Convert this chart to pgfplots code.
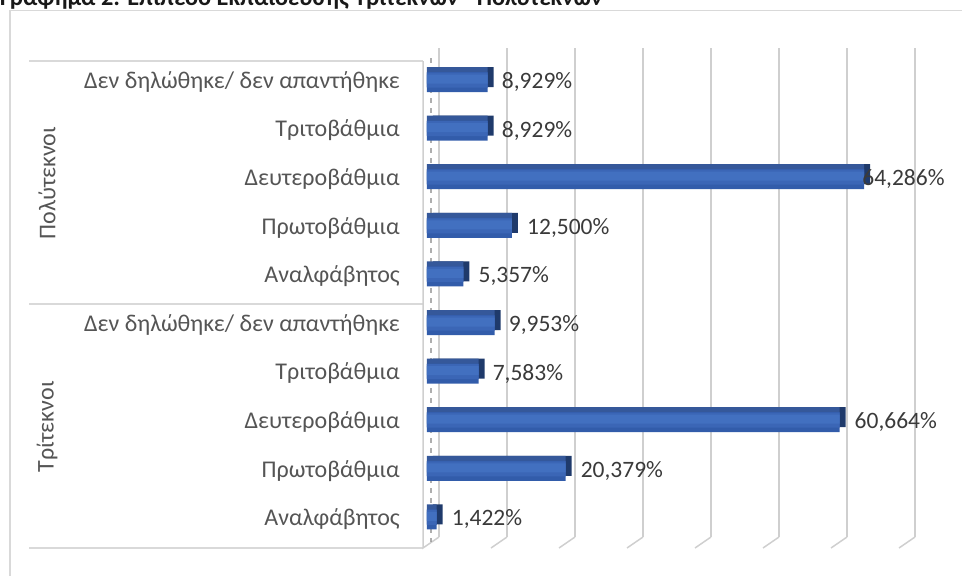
\documentclass[border=0pt]{standalone}
\usepackage{pgfplots}
\pgfplotsset{compat=1.18}
\usepackage{pgfplotstable}
\usepackage{fontspec}
\setmainfont{Carlito}
\definecolor{frontHi}{HTML}{4270C0}
\definecolor{frontMid}{HTML}{3B66B6}
\definecolor{frontLo}{HTML}{325CAA}
\definecolor{topface}{HTML}{35589A}
\definecolor{sideface}{HTML}{1F3A6B}
\definecolor{gridc}{HTML}{CFCFCF}
\definecolor{framec}{HTML}{D9D9D9}
\definecolor{txt}{HTML}{555555}
\definecolor{lbl}{HTML}{3A3A3A}

\pgfplotstableread{
y val dx
9 8.929 14
8 8.929 14
7 64.286 -2
6 12.500 15
5 5.357 15
4 9.953 14
3 7.583 14
2 60.664 15
1 20.379 15
0 1.422 15
}\datatab

\newcommand{\catfont}{\fontsize{24}{28}\selectfont}
\newcommand{\lblfont}{\fontsize{23.5}{28}\selectfont}

\begin{document}
\begin{tikzpicture}
\path[use as bounding box, clip] (0pt,0pt) rectangle (962pt,-576pt);
% title (cut off at top, as in the reference)
\node[anchor=base west, inner sep=0pt, font=\bfseries\fontsize{24.3}{28}\selectfont, text=black!90] at (0pt,-5pt) {Γράφημα 2: Επίπεδο Εκπαίδευσης Τριτέκνων - Πολυτέκνων};
% chart frame
\draw[framec, line width=1.5pt] (10pt,-10.5pt) rectangle (1000pt,-620pt);
% group separator lines
\draw[framec, line width=1.5pt] (29pt,-61pt) -- (423pt,-61pt);
\draw[framec, line width=1.5pt] (29pt,-304pt) -- (423pt,-304pt);
\draw[framec, line width=1.5pt] (29pt,-548pt) -- (423pt,-548pt);
% 3D wall
\draw[gridc, line width=1.5pt] (423pt,-61pt) -- (423pt,-548pt) -- (439pt,-537pt);
\draw[black!45, opacity=0.7, line width=2.5pt, dash pattern=on 5pt off 5pt] (431pt,-58pt) -- (431pt,-542pt);
% floor diagonals
\foreach \k in {1,...,7} {\draw[gridc, line width=1.5pt] ({439pt+68pt*\k},-537pt) -- ++(-16pt,-11pt);}
% group labels
\node[rotate=90, font=\catfont, text=txt] at (47pt,-183pt) {Πολύτεκνοι};
\node[rotate=90, font=\catfont, text=txt] at (47pt,-427pt) {Τρίτεκνοι};

\begin{axis}[
  at={(427pt,-537pt)}, anchor=south west,
  scale only axis, width=476pt, height=489pt,
  xmin=0, xmax=70, ymin=-0.362, ymax=9.7,
  clip=false,
  axis line style={draw=none},
  tick style={draw=none},
  xtick={0,10,...,70}, xticklabels={},
  xmajorgrids, major grid style={gridc, line width=1.5pt, xshift=12pt},
  ytick={0,...,9},
  yticklabels={Αναλφάβητος, Πρωτοβάθμια, Δευτεροβάθμια, Τριτοβάθμια, Δεν δηλώθηκε/ δεν απαντήθηκε, Αναλφάβητος, Πρωτοβάθμια, Δευτεροβάθμια, Τριτοβάθμια, Δεν δηλώθηκε/ δεν απαντήθηκε},
  yticklabel style={anchor=east, inner sep=0pt, xshift=-27pt, font=\catfont, text=txt},
  /pgf/number format/assume math mode=true,
]
% side face (dark), top face, front face in soft bands
\addplot[xbar, bar width=20pt, bar shift=0pt, fill=sideface, draw=none, xshift=6pt, yshift=5pt] table[x=val,y=y]{\datatab};
\addplot[xbar, bar width=20pt, bar shift=0pt, fill=topface, draw=none, yshift=5pt] table[x=val,y=y]{\datatab};
\addplot[xbar, bar width=20pt, bar shift=0pt, fill=frontLo, draw=none] table[x=val,y=y]{\datatab};
\addplot[xbar, bar width=15pt, bar shift=0pt, fill=frontMid, draw=none, yshift=2pt] table[x=val,y=y]{\datatab};
\addplot[xbar, bar width=9pt, bar shift=0pt, fill=frontHi, draw=none, yshift=3pt] table[x=val,y=y]{\datatab};
\addplot[xbar, bar width=20pt, bar shift=0pt, draw=none, fill=none,
  point meta=x,
  visualization depends on={\thisrow{dx} \as \dx},
  nodes near coords={\pgfmathprintnumber[fixed,fixed zerofill,precision=3,use comma]{\pgfplotspointmeta}\%},
  every node near coord/.append style={anchor=west, inner sep=0pt, xshift=\dx pt, text=lbl, font=\lblfont}]
  table[x=val,y=y]{\datatab};
\end{axis}
\end{tikzpicture}
\end{document}
